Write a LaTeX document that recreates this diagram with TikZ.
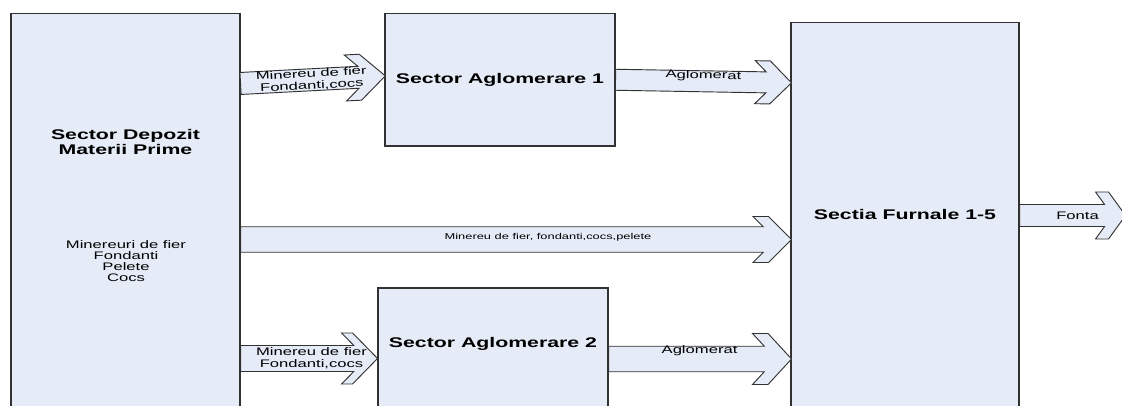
\documentclass[tikz,border=0pt]{standalone}
\usepackage{fontspec}
\setmainfont[FakeStretch=1.52]{Liberation Sans}
\usetikzlibrary{calc,fit}
\definecolor{boxfill}{RGB}{230,236,247}
\definecolor{boxline}{RGB}{50,50,50}
\begin{document}
\begin{tikzpicture}[x=0.75pt,y=-0.75pt,
  box/.style={draw=boxline, fill=boxfill, line width=0.8pt, inner sep=0pt},
  arrowshape/.style={draw=boxline, fill=boxfill, line width=0.7pt, line join=miter},
  title/.style={font=\fontsize{10.5}{10.6}\selectfont\bfseries, align=center, inner sep=0pt},
  lbl/.style={font=\fontsize{8.2}{8.4}\selectfont, align=center, inner sep=0pt},
  albl/.style={font=\fontsize{8.2}{9}\selectfont, align=center, inner sep=0pt},
  smalllbl/.style={font=\fontsize{6.35}{7.5}\selectfont, inner sep=0pt},
  pics/barrow/.style n args={5}{code={%
    \pgfmathsetmacro\bs{(#1-#2-#5)/#3}%
    \pgfmathsetmacro\bj{#2+(#3-#4)*\bs}%
    \draw[arrowshape] (0,-#4) -- (\bj,-#4) -- (#2,-#3) -- ({#2+#5},-#3) -- (#1,0)
      -- ({#2+#5},#3) -- (#2,#3) -- (\bj,#4) -- (0,#4) -- cycle;
  }}
]
\useasboundingbox (0,0) rectangle (1122,405);
\clip (0,0) rectangle (1122,405);

% boxes
\path (11,13.5) coordinate (d1) (240,420) coordinate (d2);
\node[box, fit=(d1)(d2)] (dep) {};
\path (385,13.5) coordinate (g1a) (615,146) coordinate (g1b);
\node[box, fit=(g1a)(g1b)] (ag1) {};
\path (378,288) coordinate (g2a) (608,420) coordinate (g2b);
\node[box, fit=(g2a)(g2b)] (ag2) {};
\path (791,22.5) coordinate (f1) (1019,420) coordinate (f2);
\node[box, fit=(f1)(f2)] (fur) {};

% box texts
\node[title] (depT) at (125.5,142) {Sector Depozit\\Materii Prime};
\node[lbl] (depL) at (126,261) {Minereuri de fier\\Fondanti\\Pelete\\Cocs};
\node[title] (ag1T) at (ag1.center) {Sector Aglomerare 1};
\node[title] (ag2T) at ($(ag2.north)+(0,56)$) {Sector Aglomerare 2};
\node[title] (furT) at ($(fur.north)+(0,192.2)$) {Sectia Furnale 1-5};

% block arrows
\coordinate (t1) at ($(dep.north east)+(0,70.5)$);
\pic[rotate=3] at (t1) {barrow={145}{105}{23}{11}{15}};
\node[albl, rotate=3] (l1) at ($(t1)+(71,-3.7)$) {Minereu de fier\\Fondanti,cocs};

\coordinate (t2) at (ag1.east);
\pic[rotate=-1] at (t2) {barrow={176}{139.5}{21.5}{10.5}{15}};
\node[lbl, rotate=-1] (l2) at ($(t2)+(88,-4)$) {Aglomerat};

\coordinate (t3) at ($(dep.north east)+(0,226.5)$);
\pic at (t3) {barrow={551}{512.5}{23}{12.75}{15.5}};
\node[smalllbl] (l3) at ($(t3)+(307.5,-2)$) {Minereu de fier, fondanti,cocs,pelete};

\coordinate (t4) at ($(fur.north east)+(0,193.5)$);
\pic at (t4) {barrow={106}{76}{23.5}{11}{13}};
\node[lbl] (l4) at ($(t4)+(58,0.5)$) {Fonta};

\coordinate (t5) at ($(dep.north east)+(0,345.5)$);
\pic at (t5) {barrow={137}{101}{25.5}{13}{11}};
\node[albl] (l5) at ($(t5)+(71,-0.5)$) {Minereu de fier\\Fondanti,cocs};

\coordinate (t6) at ($(ag2.north east)+(0,71.5)$);
\pic at (t6) {barrow={183}{144}{25.5}{12.75}{15.5}};
\node[lbl] (l6) at ($(t6)+(91,-8)$) {Aglomerat};
\end{tikzpicture}
\end{document}
